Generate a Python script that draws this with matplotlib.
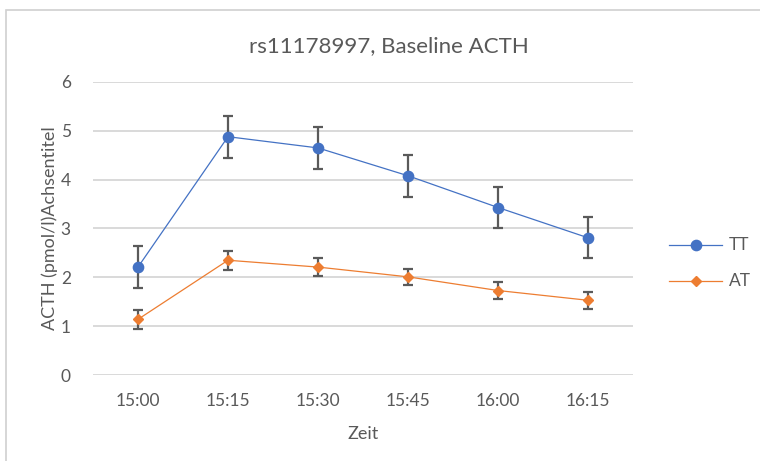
import matplotlib
matplotlib.use("Agg")
import matplotlib.pyplot as plt
from matplotlib.lines import Line2D
from matplotlib.patches import Rectangle

plt.rcParams['font.family'] = ['Lato', 'DejaVu Sans']

times = ["15:00", "15:15", "15:30", "15:45", "16:00", "16:15"]
tt_values = [2.21, 4.88, 4.65, 4.08, 3.43, 2.81]
tt_errors = [0.43, 0.43, 0.43, 0.43, 0.43, 0.42]
at_values = [1.14, 2.35, 2.21, 2.01, 1.73, 1.53]
at_errors = [0.19, 0.19, 0.19, 0.17, 0.18, 0.17]
y_ticks = [0, 1, 2, 3, 4, 5, 6]

BLUE = "#4472C4"
ORANGE = "#ED7D31"
TEXT = "#595959"
GRID = "#D9D9D9"
ERR = "#5A5A5A"

W, H = 760, 461
fig = plt.figure(figsize=(W / 100, H / 100), dpi=100)
fig.patch.set_facecolor("white")

# outer chart frame (continues past the right and bottom edges)
fig.patches.append(Rectangle((6 / W, -0.1), 1.2, (H - 10) / H + 0.1,
                             transform=fig.transFigure, fill=False,
                             edgecolor="#D0D0D0", linewidth=1.2))

ax_l, ax_r = 93 / W, 633 / W
ax_b, ax_t = (H - 375) / H, (H - 82) / H
ax = fig.add_axes([ax_l, ax_b, ax_r - ax_l, ax_t - ax_b])

x = list(range(len(times)))

series = [
    (tt_values, tt_errors, BLUE, "o", 7.4, "TT"),
    (at_values, at_errors, ORANGE, "D", 5.6, "AT"),
]
for vals, errs, color, marker, ms, label in series:
    ax.errorbar(x, vals, yerr=errs, fmt="none", ecolor=ERR, elinewidth=1.6,
                capsize=3.4, capthick=1.6, zorder=3)
    ax.plot(x, vals, color=color, linewidth=0.9, marker=marker,
            markersize=ms, markerfacecolor=color, markeredgecolor=color,
            zorder=4, label=label)

ax.set_xlim(-0.5, len(times) - 0.5)
ax.set_ylim(0, 6)
ax.set_yticks(y_ticks)
ax.set_xticks(x)
ax.set_xticklabels(times)
ax.yaxis.grid(True, color=GRID, linewidth=1.4, zorder=0)
ax.set_axisbelow(True)
for s in ax.spines.values():
    s.set_visible(False)
ax.tick_params(axis="both", length=0, labelsize=12.5, labelcolor=TEXT)
ax.tick_params(axis="x", pad=13)
ax.tick_params(axis="y", pad=16)

ax.set_xlabel("Zeit", fontsize=13, color=TEXT, labelpad=12)
ax.set_ylabel("ACTH (pmol/l)Achsentitel", fontsize=13, color=TEXT, labelpad=2)

fig.text(389 / W, (H - 46) / H, "rs11178997, Baseline ACTH",
         ha="center", va="center", fontsize=16, color=TEXT)

# legend entries drawn in figure pixels
for (vals, errs, color, marker, ms, label), ly in zip(series, [245, 281]):
    yf = (H - ly) / H
    fig.add_artist(Line2D([669 / W, 722 / W], [yf, yf], color=color,
                          linewidth=0.9, transform=fig.transFigure))
    fig.add_artist(Line2D([696 / W], [yf], color=color, marker=marker,
                          markersize=ms, linestyle="none",
                          transform=fig.transFigure))
    fig.text(729 / W, yf, label, ha="left", va="center", fontsize=12.5,
             color=TEXT)

fig.savefig("out.png", dpi=100, facecolor="white")
